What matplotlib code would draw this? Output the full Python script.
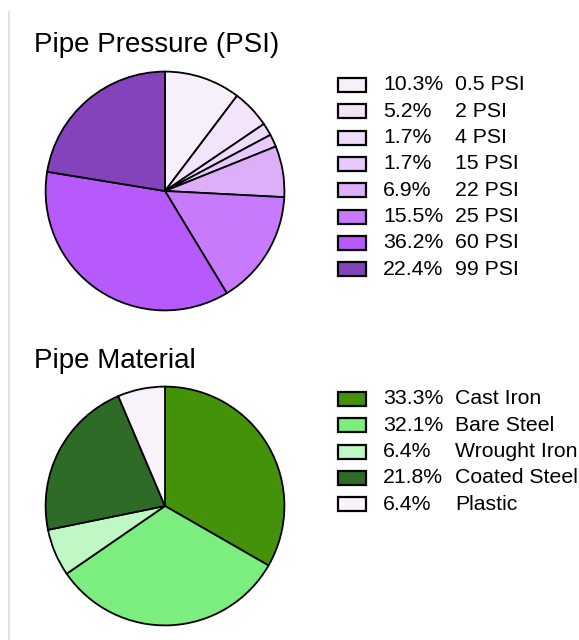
import matplotlib
matplotlib.use('Agg')
import matplotlib.pyplot as plt
from matplotlib.patches import Rectangle
from matplotlib.lines import Line2D

plt.rcParams['font.family'] = ['Liberation Sans', 'DejaVu Sans']

# data
pressure_labels = ['0.5 PSI', '2 PSI', '4 PSI', '15 PSI', '22 PSI', '25 PSI', '60 PSI', '99 PSI']
pressure_pct = [10.3, 5.2, 1.7, 1.7, 6.9, 15.5, 36.2, 22.4]
pressure_colors = ['#F7F0FA', '#F3E4FB', '#EEDCFB', '#E8C9FB', '#DDAFF9', '#C77BFC', '#B65AFB', '#8442BB']

material_labels = ['Cast Iron', 'Bare Steel', 'Wrought Iron', 'Coated Steel', 'Plastic']
material_pct = [33.3, 32.1, 6.4, 21.8, 6.4]
material_colors = ['#44920A', '#7BEE7F', '#BFF7C5', '#2E6B27', '#F8F2FA']

W, H = 579, 640
fig = plt.figure(figsize=(W / 100, H / 100), dpi=100)

# thin grey rule at left edge
fig.add_artist(Line2D([9 / W, 9 / W], [0, 1 - 12 / H], color='#DDDDDD', lw=1.2))


def px_axes(cx, cy, r):
    # axes square around pie centre given in pixel coords (top-left origin)
    return fig.add_axes([(cx - r) / W, 1 - (cy + r) / H, 2 * r / W, 2 * r / H])


def draw_block(title, title_y, pcts, labels, colors, cy, leg_y0):
    fig.text(34 / W, 1 - title_y / H, title, fontsize=20, va='baseline', ha='left')
    ax = px_axes(165, cy, 120)
    ax.pie(pcts, colors=colors, startangle=90, counterclock=False, radius=1.0,
           wedgeprops=dict(edgecolor='black', linewidth=1.3))
    ax.set_xlim(-1.005, 1.005)
    ax.set_ylim(-1.005, 1.005)
    ax.set_aspect('equal')
    ax.axis('off')
    for i, (p, lab, c) in enumerate(zip(pcts, labels, colors)):
        y = leg_y0 + i * 26.3
        fig.add_artist(Rectangle((338 / W, 1 - (y + 7) / H), 28 / W, 14 / H,
                                 facecolor=c, edgecolor='black', linewidth=1.6,
                                 transform=fig.transFigure))
        fig.text(383 / W, 1 - y / H, f'{p:.1f}%', fontsize=15.3, va='center', ha='left')
        fig.text(455 / W, 1 - y / H, lab, fontsize=15.3, va='center', ha='left')


draw_block('Pipe Pressure (PSI)', 52, pressure_pct, pressure_labels, pressure_colors, 191, 85)
draw_block('Pipe Material', 368, material_pct, material_labels, material_colors, 506, 399)

fig.savefig('out.png', dpi=100, facecolor='white')
